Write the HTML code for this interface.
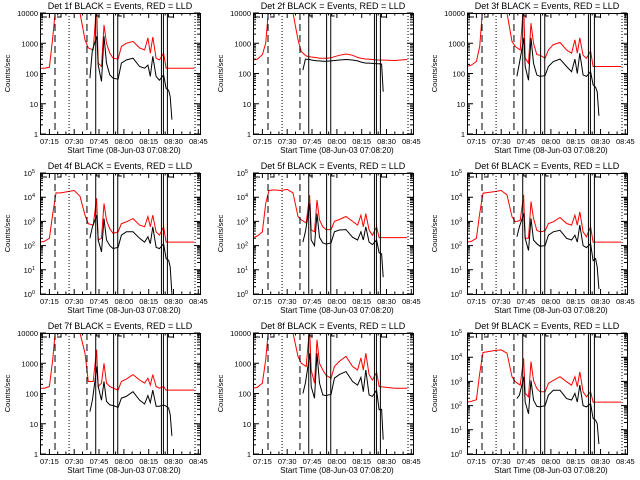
<!DOCTYPE html>
<html><head><meta charset="utf-8">
<style>
html,body{margin:0;padding:0;background:#fff;}
svg{display:block;font-family:"Liberation Sans",sans-serif;}
</style></head>
<body>
<svg id="chart" width="640" height="480" viewBox="0 0 640 480" xmlns="http://www.w3.org/2000/svg">
<rect x="0" y="0" width="640" height="480" fill="#fff"/>
</svg>
<script>
// Shared time axes (minutes after 07:00)
const timeRed = [9.3,12,15,17,19,22,26,30,33.5,36.5,38.5,41.5,43.5,44.5,46.5,48,49.5,51.5,53.5,56.5,58.5,61.5,65.5,69.5,72.5,74.5,76,77.5,79.5,81.5,84,85.5,95,102.5];
const timeBlack = [39.5,41,43.7,44.5,46.5,48,49.5,51.5,53.5,56.5,58.5,61.5,65.5,69.5,72.5,74.5,76,77.5,79.5,81.5,84,85.5,87,88,89];
const xTickLabels = ["07:15","07:30","07:45","08:00","08:15","08:30","08:45"];
const xTickTimes = [15,30,45,60,75,90,105];
const panelTitles = ["Det 1f","Det 2f","Det 3f","Det 4f","Det 5f","Det 6f","Det 7f","Det 8f","Det 9f"];
const panelDecades = [4,4,4,5,5,5,4,4,5];
const dashedTimes = [18.4,37.7];
const dottedTimes = [26.9,103];
const solidTimes = [43,53.8,56.3,82.7,83.9,86.3];

const red1 = [150,150,160,1500,20000,20000,20000,20000,10000,1300,700,600,20000,220,170,4000,1000,470,320,300,780,1000,1150,700,600,1500,470,1600,320,280,470,150,150,150];
const black1 = [70,600,1700,190,55,1700,220,90,70,65,220,280,320,170,150,190,80,370,80,60,90,32,28,17,3];
const red2 = [280,300,420,1000,20000,20000,20000,20000,10000,1300,530,380,360,350,340,330,320,320,320,330,360,400,440,400,340,320,310,300,300,290,280,280,270,290];
const black2 = [130,300,290,280,270,260,260,255,255,260,270,280,290,280,260,240,230,220,220,215,210,210,205,25,null];
const red3 = [170,190,250,780,20000,20000,20000,20000,10000,1150,780,600,20000,320,220,4600,1000,420,400,320,600,900,1060,600,470,1300,470,1500,400,320,550,170,170,170];
const black3 = [80,220,1500,170,60,1500,220,90,80,85,170,250,300,170,115,300,100,470,90,80,115,42,35,25,4];
const red4 = [140,150,200,2000,15000,15000,17000,19000,11000,1800,800,700,9000,170,200,5500,1100,500,320,370,800,950,1300,700,600,1600,600,1800,370,270,600,140,140,140];
const black4 = [200,600,1800,170,55,1300,170,100,75,85,270,370,370,200,140,230,120,600,85,75,120,29,25,13,1];
const red5 = [215,250,370,5600,19000,20000,19000,21000,15000,1600,1150,870,12000,440,370,7700,1150,600,460,460,1000,1200,1600,1000,700,1800,600,2100,440,270,600,215,215,215];
const black5 = [140,370,5600,170,100,2100,220,130,115,130,370,440,460,220,170,370,170,600,140,110,170,50,46,5,null];
const red6 = [140,150,200,2150,14700,15600,17000,19000,12500,1560,960,1100,12500,200,200,6600,1330,430,370,410,820,960,1450,820,700,1800,700,2500,370,230,600,140,140,140];
const black6 = [230,600,2150,200,63,1330,170,120,94,100,270,370,430,200,170,270,140,700,100,83,120,24,29,13,1.6];
const red7 = [150,150,170,1300,20000,20000,20000,20000,10000,2150,250,250,2800,170,220,1000,220,170,150,130,250,300,420,280,220,320,190,420,170,150,170,130,130,130];
const black7 = [25,60,780,170,60,250,55,42,40,35,70,80,115,60,45,85,50,130,38,38,42,38,33,20,4];
const red8 = [150,160,220,1300,20000,20000,20000,20000,10000,1700,1000,780,15000,600,220,6000,1000,600,400,320,780,1150,1700,780,600,1500,600,2150,420,280,500,170,150,150];
const black8 = [100,220,2150,170,70,2150,220,90,85,95,320,420,530,250,190,340,115,600,90,80,130,29,30,3,null];
const red9 = [140,150,175,2150,15600,17000,19000,20000,14700,1560,960,700,9000,320,230,6600,1100,510,370,370,820,1100,1560,960,700,1560,600,2500,370,230,370,140,140,140];
const black9 = [195,270,1560,140,46,1100,170,94,88,100,270,430,430,195,170,320,140,700,100,88,120,29,25,18,2.6];

const redSeries = [red1,red2,red3,red4,red5,red6,red7,red8,red9];
const blackSeries = [black1,black2,black3,black4,black5,black6,black7,black8,black9];

const NS = "http://www.w3.org/2000/svg";
const svg = document.getElementById('chart');
const T0 = 9.33, T1 = 106;
const PW = 160, PH = 121, OX = 40, OY = 13;

function mk(tag, attrs, parent){
  const e = document.createElementNS(NS, tag);
  for (const k in attrs) e.setAttribute(k, attrs[k]);
  parent.appendChild(e);
  return e;
}

for (let p = 0; p < 9; p++) {
  const col = p % 3, row = Math.floor(p / 3);
  const px = Math.round(col * 213.4), py = row * 160;
  const dec = panelDecades[p];
  const bx = px + OX, by = py + OY;
  const xs = t => bx + (t - T0) / (T1 - T0) * PW;
  const ys = v => by + PH - Math.log10(v) / dec * PH;

  const g = mk('g', {}, svg);
  
  

  const cid = 'clip' + p;
  const cp = mk('clipPath', {id: cid}, g);
  mk('rect', {x: bx, y: by, width: PW, height: PH}, cp);

  // title
  const title = mk('text', {x: bx + PW / 2, y: by - 4, 'font-size': 9, 'text-anchor': 'middle', fill: '#000'}, g);
  title.textContent = panelTitles[p] + " BLACK = Events, RED = LLD";
  
  

  // red series
  let d = '';
  redSeries[p].forEach((v, i) => { if (v != null) d += (d ? 'L' : 'M') + xs(timeRed[i]).toFixed(1) + ',' + ys(v).toFixed(1); });
  const rl = mk('path', {d: d, fill: 'none', stroke: '#ff0000', 'stroke-width': 1, 'clip-path': 'url(#' + cid + ')'}, g);
  
  

  // black series
  d = '';
  blackSeries[p].forEach((v, i) => { if (v != null) d += (d ? 'L' : 'M') + xs(timeBlack[i]).toFixed(1) + ',' + ys(v).toFixed(1); });
  const bl = mk('path', {d: d, fill: 'none', stroke: '#000', 'stroke-width': 1, 'clip-path': 'url(#' + cid + ')'}, g);
  
  

  // vertical markers
  dashedTimes.forEach(t => {
    const l = mk('line', {x1: xs(t), x2: xs(t), y1: by, y2: by + PH, stroke: '#000', 'stroke-dasharray': '7,4'}, g);
    
    
  });
  dottedTimes.forEach(t => {
    const l = mk('line', {x1: xs(t), x2: xs(t), y1: by, y2: by + PH, stroke: '#000', 'stroke-dasharray': '1,2'}, g);
    
    
  });
  solidTimes.forEach(t => {
    const l = mk('line', {x1: xs(t), x2: xs(t), y1: by, y2: by + PH, stroke: '#000', 'stroke-width': 1}, g);
    
    
  });
  // small top glyph marks
  const marks = 'M' + (bx + 2) + ',' + by + 'v4h5 M' + (xs(18.4) + 2) + ',' + (by + 4) + 'h4v-4 M' + (xs(43) + 1) + ',' + by + 'v3h3 M' + (xs(56.3) + 1) + ',' + by + 'v3h3 M' + (xs(86.3) + 1) + ',' + by + 'v4h5';
  const mp = mk('path', {d: marks, fill: 'none', stroke: '#000'}, g);
  
  

  // box
  const box = mk('rect', {x: bx + 0.5, y: by + 0.5, width: PW, height: PH, fill: 'none', stroke: '#000'}, g);
  
  

  // x ticks
  let td = '';
  for (let t = 15; t <= 105; t += 5) {
    const x = xs(t).toFixed(1);
    const len = (t % 15 === 0) ? 5 : 2.5;
    td += 'M' + x + ',' + (by + PH) + 'v' + (-len) + 'M' + x + ',' + by + 'v' + len;
  }
  // y ticks
  for (let k = 0; k <= dec; k++) {
    const y = ys(Math.pow(10, k)).toFixed(1);
    td += 'M' + bx + ',' + y + 'h6M' + (bx + PW) + ',' + y + 'h-6';
    if (k < dec) for (let m = 2; m < 10; m++) {
      const ym = ys(m * Math.pow(10, k)).toFixed(1);
      td += 'M' + bx + ',' + ym + 'h3M' + (bx + PW) + ',' + ym + 'h-3';
    }
  }
  const tk = mk('path', {d: td, stroke: '#000', fill: 'none'}, g);
  
  

  xTickLabels.forEach((s, i) => {
    const tx = mk('text', {x: xs(xTickTimes[i]), y: by + PH + 10, 'font-size': 7.5, 'text-anchor': 'middle'}, g);
    tx.textContent = s;
    
    
  });
  const xt = mk('text', {x: bx + PW / 2 + 4, y: by + PH + 19, 'font-size': 8, 'text-anchor': 'middle'}, g);
  xt.textContent = "Start Time (08-Jun-03 07:08:20)";
  
  

  for (let k = 0; k <= dec; k++) {
    const y = ys(Math.pow(10, k));
    const tl = mk('text', {x: bx - 2, y: y + 3, 'font-size': 7.5, 'text-anchor': 'end'}, g);
    if (dec === 4) tl.textContent = String(Math.pow(10, k));
    else {
      tl.textContent = '10';
      const sup = mk('tspan', {dy: -3, 'font-size': 5.5}, tl);
      sup.textContent = String(k);
      tl.setAttribute('x', bx - 5);
      sup.setAttribute('x', null);
    }
    
    
  }
  const yt = mk('text', {x: 0, y: 0, 'font-size': 7.5, 'text-anchor': 'middle', transform: 'translate(' + (px + 10) + ',' + (by + PH / 2) + ') rotate(-90)'}, g);
  yt.textContent = "Counts/sec";
  
  
}
</script>
</body></html>
